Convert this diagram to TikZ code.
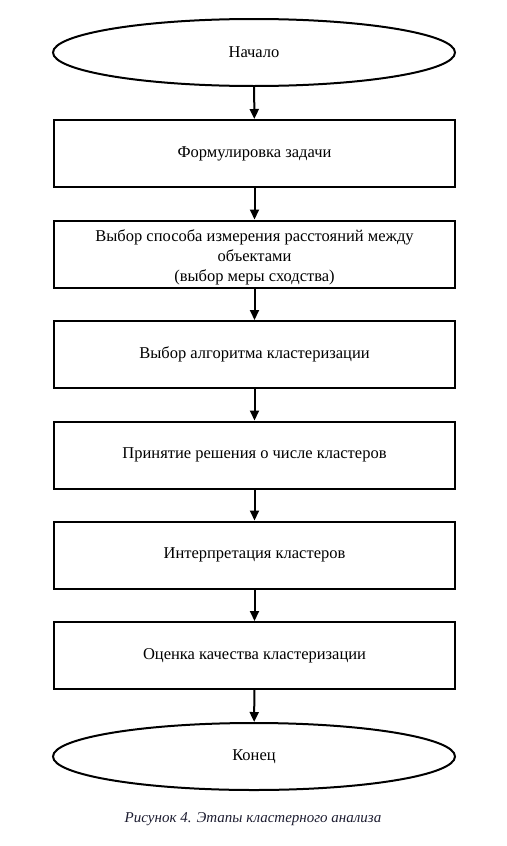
\documentclass[tikz,border=0pt]{standalone}
\usepackage{fontspec}
\setmainfont{Liberation Serif}
\usetikzlibrary{arrows.meta,shapes.geometric}
\definecolor{capcol}{RGB}{28,28,48}
\begin{document}
\begin{tikzpicture}[x=1pt,y=-1pt,
  every node/.style={font=\fontsize{16.5}{20}\selectfont, align=center},
  stepbox/.style={draw, line width=2pt, minimum width=401pt, minimum height=67pt, inner sep=0pt},
  term/.style={draw, ellipse, line width=2pt, minimum width=402pt, minimum height=67pt, inner sep=0pt},
  conn/.style={line width=2pt, -{Triangle[length=10pt,width=9pt]}}]
\useasboundingbox (0,0) rectangle (506,846);
\node[term] (s) at (254,52.5) {Начало};
\node[stepbox] (b1) at (254.5,153.5) {Формулировка задачи};
\node[stepbox] (b2) at (254.5,254) {\rule{0pt}{18pt}Выбор способа измерения расстояний между\\объектами\\(выбор меры сходства)};
\node[stepbox] (b3) at (254.5,354.5) {Выбор алгоритма кластеризации};
\node[stepbox] (b4) at (254.5,455) {Принятие решения о числе кластеров};
\node[stepbox] (b5) at (254.5,555) {Интерпретация кластеров};
\node[stepbox] (b6) at (254.5,655.5) {Оценка качества кластеризации};
\node[term] (e) at (254,756.5) {Конец};
\node[font=\fontsize{15}{17}\selectfont\itshape, text=capcol] (cap) at (253,819) {Рисунок 4. Этапы кластерного анализа};
\draw[conn] (s) -- (b1);
\draw[conn] (b1) -- (b2);
\draw[conn] (b2) -- (b3);
\draw[conn] (b3) -- (b4);
\draw[conn] (b4) -- (b5);
\draw[conn] (b5) -- (b6);
\draw[conn] (b6) -- (e);
\end{tikzpicture}
\end{document}
